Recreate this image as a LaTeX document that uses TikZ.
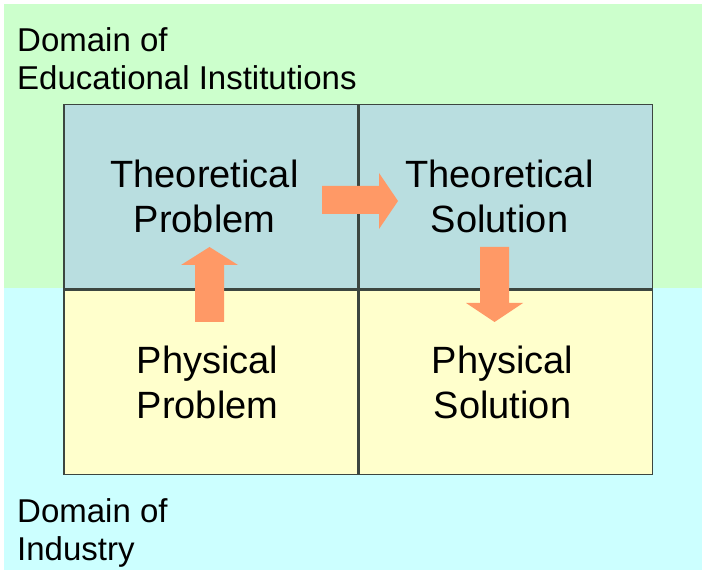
\documentclass[tikz,border=0pt]{standalone}
\usepackage{fontspec}
\setmainfont{Liberation Sans}
\usetikzlibrary{positioning}

\definecolor{edugreen}{HTML}{CCFFCC}
\definecolor{indcyan}{HTML}{CCFFFF}
\definecolor{theoblue}{HTML}{B9DEE0}
\definecolor{physyellow}{HTML}{FFFFCC}
\definecolor{arrowfill}{HTML}{FF9966}
\definecolor{gridline}{HTML}{3C4640}

\begin{document}
\begin{tikzpicture}[x=1pt, y=-1pt,
  cell/.style={draw=gridline, line width=1.5pt, minimum width=293.5pt, minimum height=184pt, inner sep=0pt},
  celltext/.style={align=center, inner sep=0pt, font=\fontsize{38}{45}\selectfont},
  domainlabel/.style={align=left, anchor=north west, inner sep=0pt, font=\fontsize{33}{38}\selectfont},
  blockarrow/.style={fill=arrowfill}
]
  \useasboundingbox (0,0) rectangle (702,572);
  % the two domains
  \fill[edugreen] (4,4) rectangle (702,288);
  \fill[indcyan] (4,288) rectangle (702,570);
  \node[domainlabel] (edu) at (17,27) {Domain of\\Educational Institutions};
  \node[domainlabel] (ind) at (17,498) {Domain of\\Industry};

  % the four cells
  \node[cell, fill=theoblue, anchor=north west] (TP) at (63,104) {};
  \node[cell, fill=theoblue, right=0pt of TP] (TS) {};
  \node[cell, fill=physyellow, below=0pt of TP] (PP) {};
  \node[cell, fill=physyellow, right=0pt of PP] (PS) {};

  \node[celltext] (tptext) at ([xshift=-6pt]TP.center) {Theoretical\\Problem};
  \node[celltext] (tstext) at ([xshift=-6pt]TS.center) {Theoretical\\Solution};
  \node[celltext] (pptext) at ([xshift=-3pt]PP.center) {Physical\\Problem};
  \node[celltext] (pstext) at ([xshift=-3pt]PS.center) {Physical\\Solution};

  % block arrows
  \fill[blockarrow] (195,322) -- (195,265) -- (181,265) -- (209.5,247) -- (238,265) -- (224,265) -- (224,322) -- cycle;
  \fill[blockarrow] (322,186) -- (379,186) -- (379,173) -- (398,201) -- (379,229) -- (379,214) -- (322,214) -- cycle;
  \fill[blockarrow] (480,247) -- (509,247) -- (509,303) -- (523,303) -- (494.5,322) -- (466,303) -- (480,303) -- cycle;
\end{tikzpicture}
\end{document}
